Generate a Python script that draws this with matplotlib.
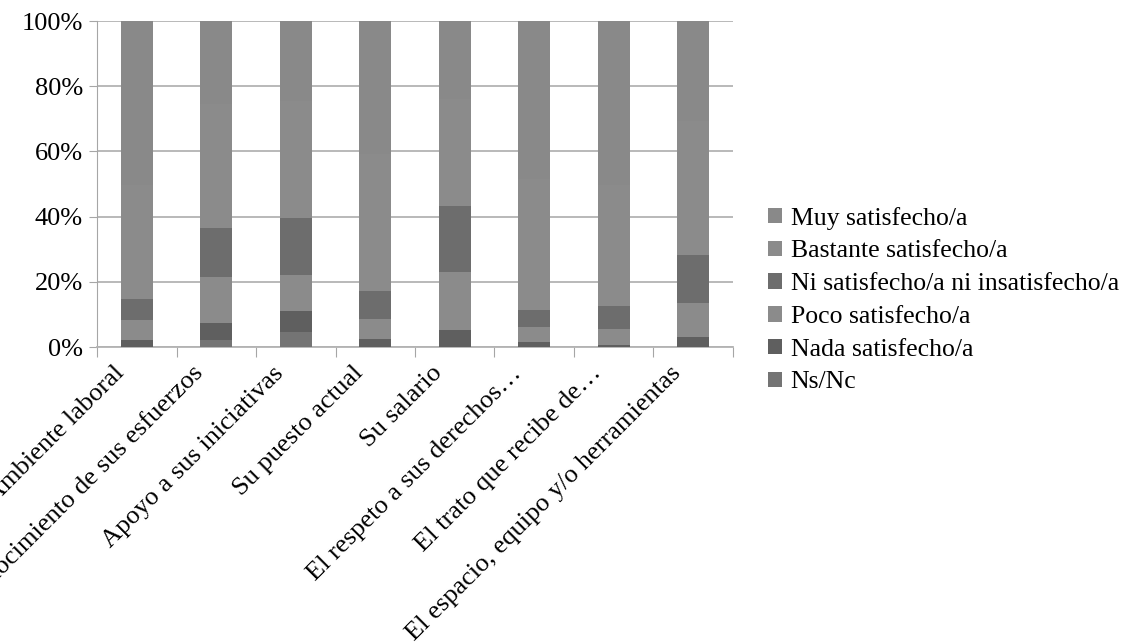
import matplotlib
matplotlib.use("Agg")
import matplotlib.pyplot as plt
import numpy as np
from matplotlib.patches import Patch

categories = ["Ambiente laboral", "Reconocimiento de sus esfuerzos", "Apoyo a sus iniciativas",
              "Su puesto actual", "Su salario", "El respeto a sus derechos…",
              "El trato que recibe de…", "El espacio, equipo y/o herramientas"]

ns_nc    = [0.0, 2.2, 4.7, 0.0, 0.0, 0.0, 0.0, 0.0]
nada     = [2.2, 5.2, 6.4, 2.5, 5.3, 1.6, 0.7, 3.1]
poco     = [6.1, 14.0, 10.9, 6.2, 17.8, 4.6, 4.9, 10.4]
ni       = [6.4, 15.1, 17.5, 8.6, 20.0, 5.2, 7.0, 14.7]
bastante = [35.0, 38.0, 36.0, 42.0, 33.0, 40.0, 37.0, 41.0]
muy      = [50.3, 25.5, 24.5, 40.7, 23.9, 48.6, 50.4, 30.8]

series_names = ["Ns/Nc", "Nada satisfecho/a", "Poco satisfecho/a",
                "Ni satisfecho/a ni insatisfecho/a", "Bastante satisfecho/a", "Muy satisfecho/a"]
series_vals = [ns_nc, nada, poco, ni, bastante, muy]
colors = ["#747474", "#5f5f5f", "#8b8b8b", "#6d6d6d", "#8b8b8b", "#898989"]

plt.rcParams['font.family'] = ['Liberation Serif', 'DejaVu Serif']
FS = 18.5
FSX = 19

fig = plt.figure(figsize=(11.29, 6.44), dpi=100)
ax = fig.add_axes([97/1129, 1 - 347/644, (733-97)/1129, (347-21)/644])

data = np.array(series_vals, dtype=float)
totals = data.sum(axis=0)
pct = data / totals * 100

x = np.arange(len(categories))
bottom = np.zeros(len(categories))
for vals, c in zip(pct, colors):
    ax.bar(x, vals, bottom=bottom, width=0.4, color=c, edgecolor='none', zorder=3)
    bottom += vals

ax.set_xlim(-0.5, len(categories) - 0.5)
ax.set_ylim(0, 100)
ax.set_yticks(np.arange(0, 101, 20))
ax.set_yticklabels([f"{v}%" for v in range(0, 101, 20)], fontsize=19)
ax.yaxis.grid(True, color='#b3b3b3', linewidth=1.3, zorder=0)
ax.set_axisbelow(True)

for s in ['top', 'right']:
    ax.spines[s].set_visible(False)
ax.spines['left'].set_color('#a6a6a6')
ax.spines['bottom'].set_color('#b3b3b3')
ax.spines['bottom'].set_linewidth(1.3)
ax.tick_params(axis='y', length=6, color='#a6a6a6', pad=4)

# category boundary ticks
ax.set_xticks(np.arange(-0.5, len(categories), 1.0), minor=False)
ax.set_xticklabels([])
ax.tick_params(axis='x', length=7, color='#a6a6a6')

for xi, lab in zip(x, categories):
    ax.annotate(lab, xy=(xi, 0), xycoords=('data', 'axes fraction'),
                xytext=(-17, -11), textcoords='offset points',
                rotation=45, rotation_mode='anchor', ha='right', va='top',
                fontsize=FSX, annotation_clip=False)

handles = [Patch(facecolor=c, edgecolor='none') for c in colors][::-1]
labels = series_names[::-1]
fig.legend(handles, labels, loc='upper left', bbox_to_anchor=(747/1129, 1 - 186/644),
           frameon=False, fontsize=FS, handlelength=0.55, handleheight=0.55,
           labelspacing=0.42, handletextpad=0.35, borderpad=0.3)

fig.savefig("out.png", dpi=100)
